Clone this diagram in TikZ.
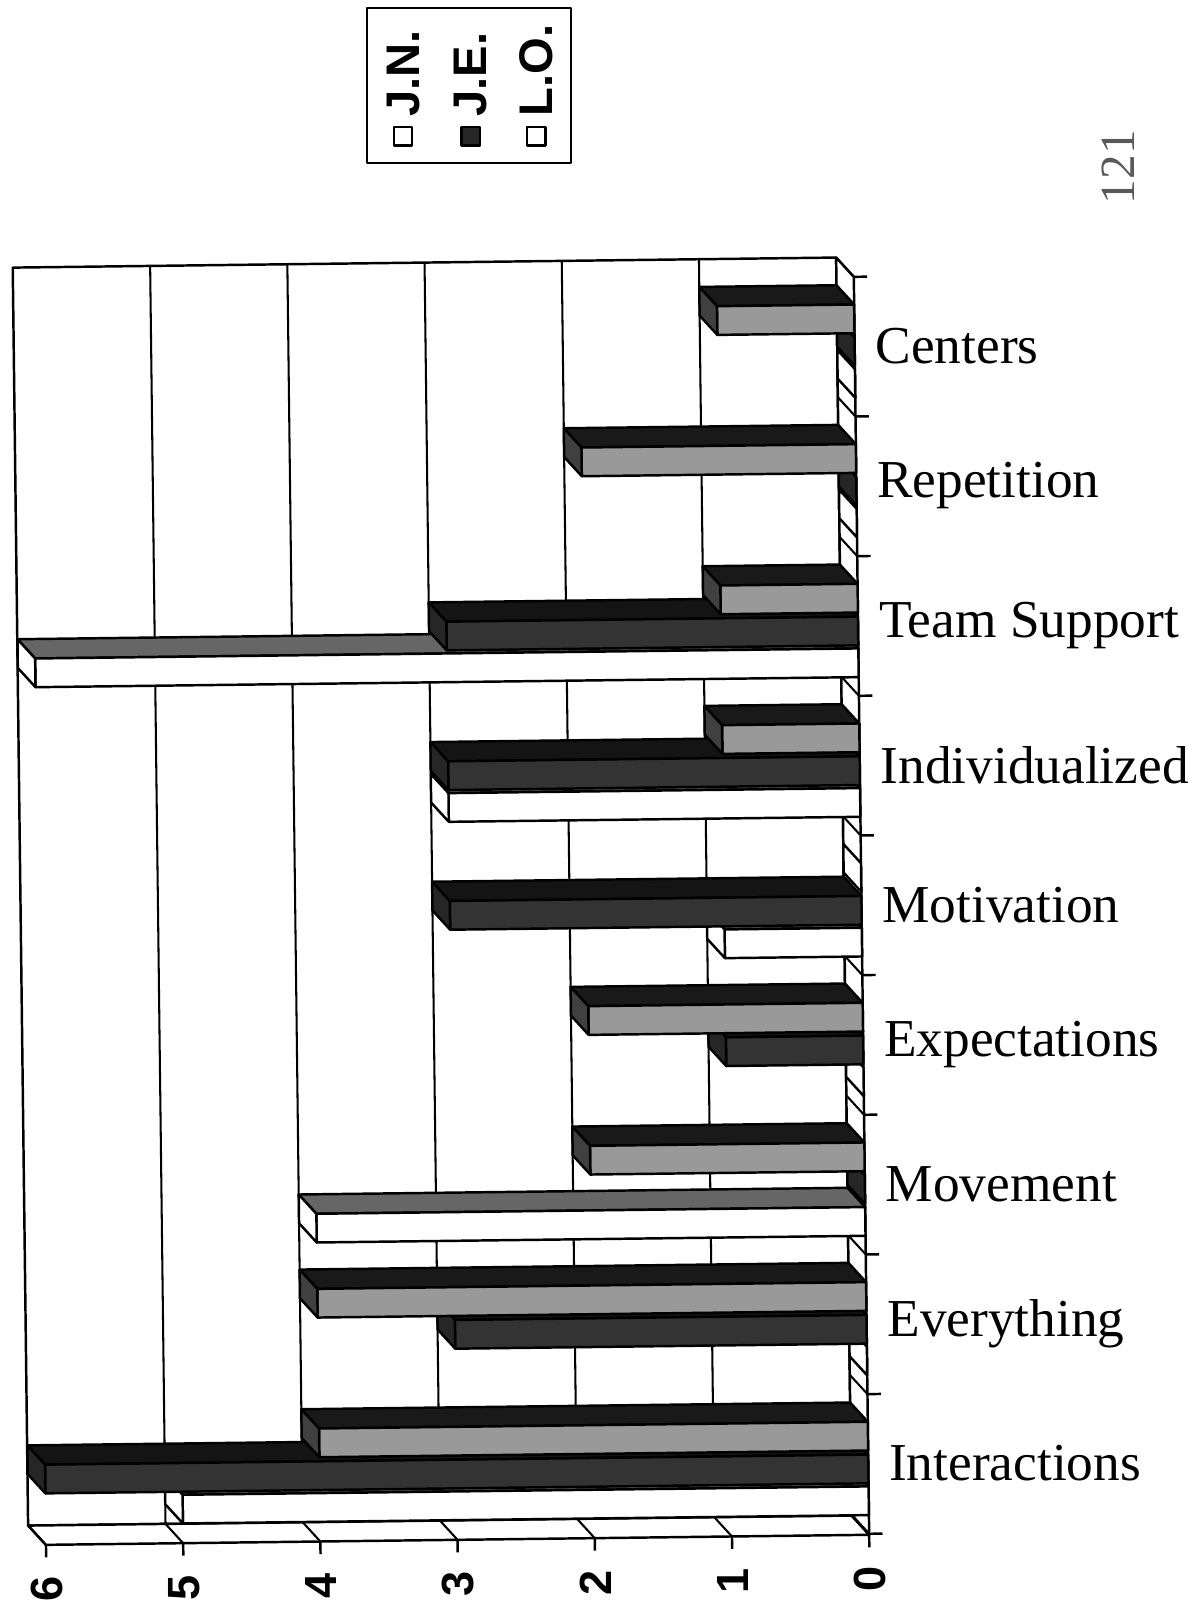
\documentclass[tikz,border=0pt]{standalone}
\usepackage{fontspec}
\setmainfont{Liberation Serif}
\newfontfamily\lsans{Liberation Sans}
\begin{document}
\begin{tikzpicture}[x=0.5pt,y=-0.5pt,line join=round,
  wall/.style={draw=black,line width=1.2pt},
  gridln/.style={draw=black,line width=1pt},
  barline/.style={draw=black,line width=1.2pt},
  catlab/.style={anchor=west,inner sep=0pt,font=\fontsize{26}{30}\selectfont},
  vallab/.style={rotate=90,inner sep=0pt,font=\lsans\bfseries\fontsize{22}{26}\selectfont},
  legtext/.style={rotate=90,inner sep=0pt,font=\lsans\bfseries\fontsize{23}{27}\selectfont},
  legsq/.style={draw=black,line width=1.2pt,minimum size=9pt,inner sep=0pt}]
\useasboundingbox (0,0) rectangle (1171,1568);
\fill[white] (0,0) rectangle (1171,1568);

\newcommand\tdbar[6]{%
  \pgfmathsetmacro\ya{275+136.2*#1+#2}%
  \pgfmathsetmacro\yb{\ya+28}%
  \pgfmathsetmacro\xv{840-133.8*#3}%
  \pgfmathsetmacro\yc{\ya-19}%
  \pgfmathsetmacro\yd{\yb-19}%
  \pgfmathsetmacro\xw{\xv-17}%
  \ifdim #3pt>0pt
    \filldraw[barline,fill=#5] (\xv,\ya) -- (840,\ya) -- (823,\yc) -- (\xw,\yc) -- cycle;
    \filldraw[barline,fill=#4] (\xv,\ya) rectangle (840,\yb);
  \fi
  \filldraw[barline,fill=#6] (\xv,\ya) -- (\xv,\yb) -- (\xw,\yd) -- (\xw,\yc) -- cycle;
}
% series: J.N. (front white), J.E. (dark), L.O. (light)
\newcommand\jnbar[2]{\tdbar{#1}{90}{#2}{white}{black!60}{white}}
\newcommand\jebar[2]{\tdbar{#1}{59}{#2}{black!80}{black!92}{black!85}}
\newcommand\lobar[2]{\tdbar{#1}{27}{#2}{black!40}{black!90}{black!75}}

\begin{scope}[rotate around={0.7:(420,880)}]
  % back wall
  \filldraw[wall,fill=white] (20,256) rectangle (823,1482.8);
  \foreach \v in {1,...,5} {
    \pgfmathsetmacro\gx{823-133.8*\v}
    \draw[gridln] (\gx,256) -- (\gx,1482.8);
  }
  % floor (category side)
  \filldraw[wall,fill=white] (823,256) -- (840,275) -- (840,1501.8) -- (823,1482.8) -- cycle;
  \foreach \i in {0,...,9} {
    \pgfmathsetmacro\ty{275+136.2*\i}
    \draw[gridln] (823,\ty-19) -- (840,\ty);
    \draw[wall] (840,\ty) -- (853,\ty);
  }
  % side wall (value side)
  \filldraw[wall,fill=white] (20,1482.8) -- (823,1482.8) -- (840,1501.8) -- (37,1501.8) -- cycle;
  \foreach \v in {0,...,6} {
    \pgfmathsetmacro\fx{840-133.8*\v}
    \draw[gridln] (\fx-17,1482.8) -- (\fx,1501.8);
    \draw[wall] (\fx,1501.8) -- (\fx,1514);
    \node[vallab] (val\v) at (\fx,1545) {\v};
  }

  % bars, category by category (J.N. first, then J.E., then L.O.)
  % 0 Centers
  \jnbar{0}{0}\jebar{0}{0}\lobar{0}{1}
  % 1 Repetition
  \jnbar{1}{0}\jebar{1}{0}\lobar{1}{2}
  % 2 Team Support
  \jnbar{2}{6}\jebar{2}{3}\lobar{2}{1}
  % 3 Individualized
  \jnbar{3}{3}\jebar{3}{3}\lobar{3}{1}
  % 4 Motivation
  \jnbar{4}{1}\jebar{4}{3}\tdbar{4}{27}{0}{black!40}{black!90}{white}
  % 5 Expectations
  \jnbar{5}{0}\jebar{5}{1}\lobar{5}{2}
  % 6 Movement
  \jnbar{6}{4}\jebar{6}{0}\lobar{6}{2}
  % 7 Everything
  \jnbar{7}{0}\jebar{7}{3}\lobar{7}{4}
  % 8 Interactions
  \jnbar{8}{5}\jebar{8}{6}\lobar{8}{4}

  % category labels
  \foreach \lab [count=\k from 0] in {Centers,Repetition,Team Support,Individualized,Motivation,Expectations,Movement,Everything,Interactions} {
    \pgfmathsetmacro\ly{275+136.2*\k+68}
    \node[catlab] (cat\k) at (860,\ly) {\lab};
  }
\end{scope}

% legend
\draw[line width=1.2pt] (358,8) rectangle (557,159);
\node[legsq,fill=white] (sqjn) at (393,133) {};
\node[legsq,fill=black!85] (sqje) at (459,133) {};
\node[legsq,fill=white] (sqlo) at (523,133) {};
\node[legtext,anchor=west] (tjn) at (393,114) {J.N.};
\node[legtext,anchor=west] (tje) at (459,114) {J.E.};
\node[legtext,anchor=west] (tlo) at (523,114) {L.O.};

% page number
\node[rotate=90,inner sep=0pt,text=black!65,font=\fontsize{24}{28}\selectfont] (pnum) at (1090,163) {121};
\end{tikzpicture}
\end{document}
